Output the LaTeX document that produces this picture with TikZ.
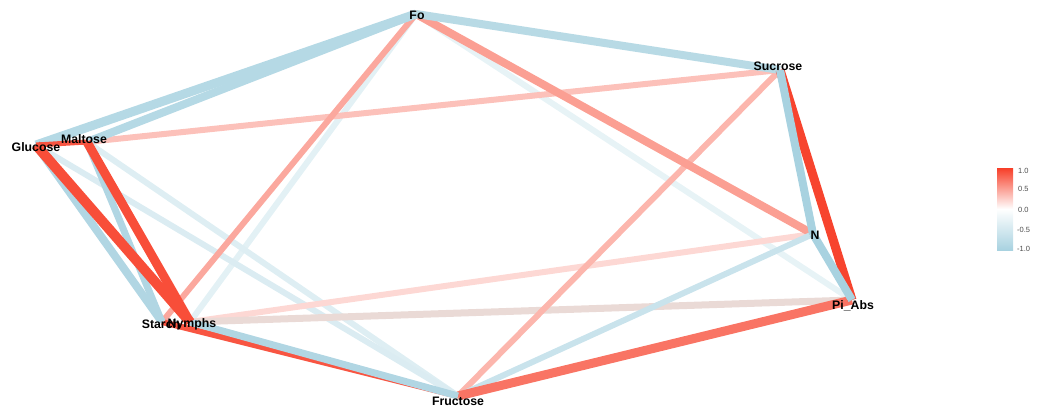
\documentclass[tikz,border=0pt]{standalone}
\usepackage{fontspec}
\setmainfont{Liberation Sans}
\begin{document}
\begin{tikzpicture}[x=1pt,y=-1pt,
  edge/.style={line cap=butt},
  lbl/.style={font=\bfseries\fontsize{12.3}{13}\selectfont, inner sep=0pt, text=black},
  vtx/.style={inner sep=0pt, minimum size=0pt},
  tick/.style={font=\fontsize{7.5}{8}\selectfont, text=black!70, anchor=west, inner sep=0pt}]
\definecolor{posred}{RGB}{247,62,40}
\definecolor{negblue}{RGB}{168,210,224}
\definecolor{paleflat}{RGB}{234,218,214}
\useasboundingbox (0,0) rectangle (1037,408);

% vertex positions
\node[vtx] (fo) at (416,14) {};
\node[vtx] (su) at (780,70) {};
\node[vtx] (gl) at (36,145) {};
\node[vtx] (ma) at (87,142) {};
\node[vtx] (n)  at (813,234) {};
\node[vtx] (pi) at (852,300) {};
\node[vtx] (st) at (162,322) {};
\node[vtx] (ny) at (190,322) {};
\node[vtx] (fr) at (458,396) {};

% weak edges first
\draw[edge, line width=6, negblue!28] (fo.center) -- (pi.center);
\draw[edge, line width=6, negblue!32] (fo.center) -- (ny.center);
\draw[edge, line width=6, negblue!38] (ma.center) -- (fr.center);
\draw[edge, line width=6, negblue!42] (gl.center) -- (fr.center);
\draw[edge, line width=6, posred!20] (n.center) -- (ny.center);
\draw[edge, line width=7, paleflat] (pi.center) -- (ny.center);
\draw[edge, line width=6, posred!32] (ma.center) -- (su.center);
\draw[edge, line width=6, posred!38] (su.center) -- (fr.center);
\draw[edge, line width=6, posred!45] (fo.center) -- (st.center);
\draw[edge, line width=8, posred!50] (fo.center) -- (n.center);
\draw[edge, line width=6, negblue!62] (n.center) -- (fr.center);

% stronger edges
\draw[edge, line width=8, negblue!82] (fo.center) -- (su.center);
\draw[edge, line width=9, negblue!85] (fo.center) -- (gl.center);
\draw[edge, line width=8, negblue!85] (fo.center) -- (ma.center);
\draw[edge, line width=9, posred!72] (pi.center) -- (fr.center);
\draw[edge, line width=6, posred!88] (st.center) -- (fr.center);
\draw[edge, line width=7, negblue!90] (ny.center) -- (fr.center);
\draw[edge, line width=8, negblue!90] (gl.center) -- (st.center);
\draw[edge, line width=7, negblue!90] (ma.center) -- (st.center);
\draw[edge, line width=10, posred!92] (gl.center) -- (ny.center);
\draw[edge, line width=9, posred!92] (ma.center) -- (ny.center);
\draw[edge, line width=5, posred!88] (gl.center) -- (ma.center);
\draw[edge, line width=9, posred!97] (su.center) -- (pi.center);
\draw[edge, line width=8, negblue] (su.center) -- (n.center);
\draw[edge, line width=8, negblue] (n.center) -- (pi.center);

% labels
\node[lbl] (lfo) at (417,15) {Fo};
\node[lbl] (lsu) at (778,66) {Sucrose};
\node[lbl] (lgl) at (36,147) {Glucose};
\node[lbl] (lma) at (84,139) {Maltose};
\node[lbl] (ln)  at (815,235) {N};
\node[lbl] (lpi) at (853,306) {Pi\_Abs};
\node[lbl] (lst) at (161,324) {Starch};
\node[lbl] (lny) at (192,324) {Nymphs};
\node[lbl] (lfr) at (458,401) {Fructose};

% colour key: red to white to blue
\shade[top color=posred, bottom color=white] (997,168) rectangle (1013,209);
\shade[top color=white, bottom color=negblue] (997,209) rectangle (1013,250);
\node[tick] (t1) at (1018,171) {1.0};
\node[tick] (t2) at (1018,189) {0.5};
\node[tick] (t3) at (1018,210) {0.0};
\node[tick] (t4) at (1017,230) {-0.5};
\node[tick] (t5) at (1017,249) {-1.0};
\end{tikzpicture}
\end{document}
